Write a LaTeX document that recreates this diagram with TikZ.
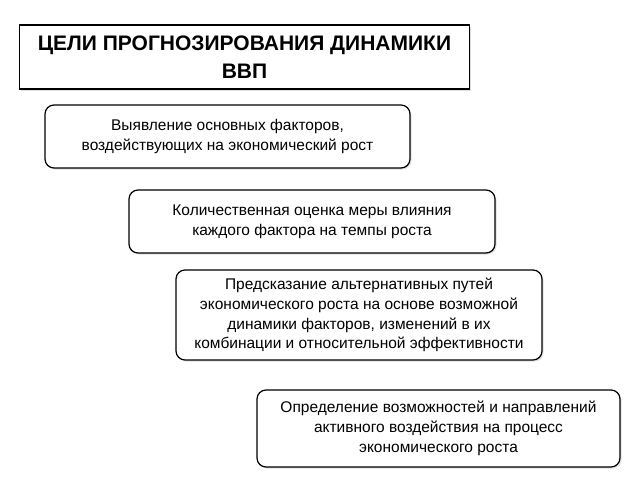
\documentclass[tikz,border=0pt]{standalone}
\usepackage{fontspec}
\setmainfont{Liberation Sans}
\usetikzlibrary{shadows}
\tikzset{
  goal/.style={draw, line width=1.2pt, fill=white, rounded corners=9pt, align=center,
    inner sep=0pt, font=\fontsize{15.5}{19.8}\selectfont,
    drop shadow={opacity=0.25, shadow xshift=1.5pt, shadow yshift=-1.5pt}},
  head/.style={draw, line width=1.2pt, fill=white, align=center, inner sep=0pt,
    font=\fontsize{21}{28}\selectfont\bfseries,
    drop shadow={opacity=0.25, shadow xshift=1.5pt, shadow yshift=-1.5pt}}
}
\begin{document}
\begin{tikzpicture}[x=1pt, y=-1pt]
      \useasboundingbox (0,0) rectangle (640,480);
      \node[head, minimum width=450pt, minimum height=64pt] (t) at (244.5,57)
        {ЦЕЛИ ПРОГНОЗИРОВАНИЯ ДИНАМИКИ\\ВВП};
      \node[goal, minimum width=365pt, minimum height=63pt] (1) at (227.5,136.5)
        {Выявление основных факторов,\\воздействующих на экономический рост};
      \node[goal, minimum width=366pt, minimum height=63pt] (2) at (312,221.5)
        {Количественная оценка меры влияния\\каждого фактора на темпы роста};
      \node[goal, minimum width=366pt, minimum height=90pt] (3) at (359,315)
        {Предсказание альтернативных путей\\экономического роста на основе возможной\\динамики факторов, изменений в их\\комбинации и относительной эффективности};
      \node[goal, minimum width=363pt, minimum height=77pt] (4) at (438.5,428.5)
        {Определение возможностей и направлений\\активного воздействия на процесс\\экономического роста};
    \end{tikzpicture}
\end{document}
